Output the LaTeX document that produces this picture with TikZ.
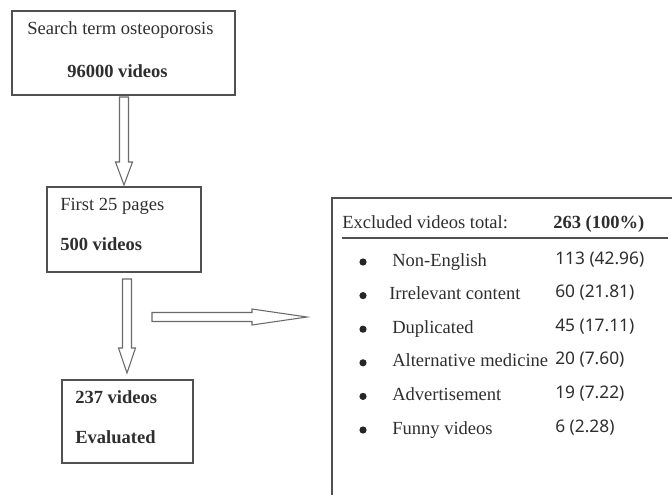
\documentclass[tikz,border=0pt]{standalone}
\usepackage{fontspec}
\setmainfont{Liberation Serif}
\newfontfamily\numfont{Noto Sans}
\usetikzlibrary{calc}
\definecolor{txt}{HTML}{2E2E2E}
\definecolor{ln}{HTML}{505050}
\definecolor{arr}{HTML}{6A6A6A}
\newcommand\vhollow[3]{%
  \draw[hollow] ($(#1)+(-4.5,0)$) -- ($(#2)+(-4.5,-#3)$) -- ($(#2)+(-8.5,-#3)$) -- (#2)
    -- ($(#2)+(8.5,-#3)$) -- ($(#2)+(4.5,-#3)$) -- ($(#1)+(4.5,0)$) -- cycle;}
\begin{document}
\begin{tikzpicture}[x=0.75pt,y=-0.75pt,
  lbl/.style={inner sep=0pt, anchor=base west, text=txt, font=\fontsize{13.9}{16}\selectfont},
  num/.style={inner sep=0pt, anchor=base west, text=txt, font=\numfont\fontsize{13}{15}\selectfont},
  boxline/.style={draw=ln, line width=1.1pt, inner sep=0pt, outer sep=0pt, anchor=north west},
  hollow/.style={draw=arr, line width=0.8pt, fill=white, line join=miter},
  dot/.style={circle, fill=black!85, inner sep=0pt, minimum size=5.4pt}]
\useasboundingbox (0,0) rectangle (672,494);
\clip (0,0) rectangle (672,494);

% boxes
\node[boxline, minimum width=167.25pt, minimum height=63pt] (b1) at (12,11) {};
\node[boxline, minimum width=115.5pt, minimum height=63.75pt] (b2) at (47,187) {};
\node[boxline, minimum width=98.25pt, minimum height=62.25pt] (b3) at (62,380) {};
\node[boxline, minimum width=300pt, minimum height=250pt] (ex) at (332,198) {};

% box texts
\node[lbl] (s1) at (27,34) {Search term osteoporosis};
\node[lbl] (s2) at (67,77) {\textbf{96000 videos}};
\node[lbl] (f1) at (60,210) {First 25 pages};
\node[lbl] (f2) at (60,250) {\textbf{500 videos}};
\node[lbl] (e1) at (75,403) {\textbf{237 videos}};
\node[lbl] (e2) at (75,443) {\textbf{Evaluated}};

% vertical hollow arrows
\coordinate (c1) at (124,0);
\coordinate (c2) at (127,0);
\coordinate (a1s) at ($(b1.south -| c1)+(0,2)$);
\coordinate (a1e) at ($(b2.north -| c1)+(0,-2)$);
\vhollow{a1s}{a1e}{23}
\coordinate (a2s) at ($(b2.south -| c2)+(0,7)$);
\coordinate (a2e) at ($(b3.north -| c2)+(0,-7)$);
\vhollow{a2s}{a2e}{25}

% horizontal hollow arrow
\coordinate (h1) at (152,317);
\coordinate (h2) at (307,317);
\draw[hollow] ($(h1)+(0,-4.5)$) -- ($(h2)+(-55,-4.5)$) -- ($(h2)+(-55,-8)$) -- (h2)
  -- ($(h2)+(-55,8)$) -- ($(h2)+(-55,4.5)$) -- ($(h1)+(0,4.5)$) -- cycle;

% excluded table
\node[lbl] (hd) at (342,228) {Excluded videos total:};
\node[lbl] (tot) at (553,228) {\textbf{263 (100\%)}};
\coordinate (u1) at (342,238);
\coordinate (u2) at (668,238);
\draw[draw=ln, line width=1.1pt] (u1) -- (u2);

\foreach \i/\t/\n/\tx in {0/{Non-English}/{113 (42.96)}/392,
                          1/{Irrelevant content}/{60 (21.81)}/389,
                          2/{Duplicated}/{45 (17.11)}/392,
                          3/{Alternative medicine}/{20 (7.60)}/392,
                          4/{Advertisement}/{19 (7.22)}/392,
                          5/{Funny videos}/{6 (2.28)}/392} {
  \node[dot] (d\i) at (363,{262+33.6*\i}) {};
  \node[lbl] (t\i) at (\tx,{266+33.6*\i}) {\t};
  \node[num] (n\i) at (555,{264+33.6*\i}) {\n};
}
\end{tikzpicture}
\end{document}
